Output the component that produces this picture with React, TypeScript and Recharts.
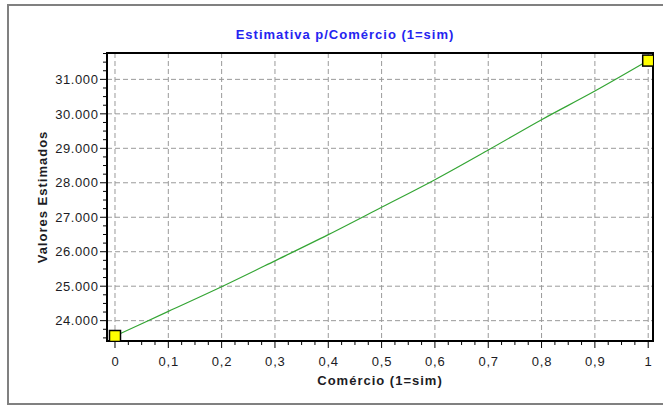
import React from 'react';
import { LineChart, Line, XAxis, YAxis, CartesianGrid, ReferenceArea } from 'recharts';

// values
const comercio = [0, 0.1, 0.2, 0.3, 0.4, 0.5, 0.6, 0.7, 0.8, 0.9, 1];
const valoresEstimados = [23555, 24270, 24985, 25735, 26495, 27290, 28090, 28950, 29830, 30660, 31545];

const xTicks = [0, 0.1, 0.2, 0.3, 0.4, 0.5, 0.6, 0.7, 0.8, 0.9, 1];
const xTickLabels = ['0', '0,1', '0,2', '0,3', '0,4', '0,5', '0,6', '0,7', '0,8', '0,9', '1'];
const yTicks = [24000, 25000, 26000, 27000, 28000, 29000, 30000, 31000];
const yTickLabels = ['24.000', '25.000', '26.000', '27.000', '28.000', '29.000', '30.000', '31.000'];

const X_DOMAIN: [number, number] = [-0.015, 1.009];
const Y_DOMAIN: [number, number] = [23410, 31765];

// minor tick marks between the labelled ones
const minorTicks = (from: number, to: number, step: number) => {
  const out: number[] = [];
  for (let v = from; v <= to + step / 1000; v += step) out.push(Number(v.toFixed(4)));
  return out;
};
const xMinor = minorTicks(0, 1, 0.025);
const yMinor = minorTicks(23500, 31750, 250);

const data = comercio.map((c, i) => ({ c, v: valoresEstimados[i] }));

const FONT = '"Liberation Sans", Arial, sans-serif';
const TEXT = '#1c1c24';

function XTick(props: any) {
  const { x, y, payload } = props;
  const i = xTicks.findIndex((t) => Math.abs(t - payload.value) < 1e-6);
  const major = i >= 0;
  return (
    <g>
      <line x1={x} x2={x} y1={y} y2={y + (major ? 7 : 4)} stroke="#000" />
      {major && (
        <text x={x + 0.4} y={y + 25} textAnchor="middle" fontSize={13} letterSpacing={0.8} fill={TEXT} fontFamily={FONT}>
          {xTickLabels[i]}
        </text>
      )}
    </g>
  );
}

function YTick(props: any) {
  const { x, y, payload } = props;
  const i = yTicks.findIndex((t) => Math.abs(t - payload.value) < 1e-6);
  const major = i >= 0;
  return (
    <g>
      <line x1={x - (major ? 7 : 4)} x2={x} y1={y} y2={y} stroke="#000" />
      {major && (
        <text x={x - 8.5} y={y} dy="0.36em" textAnchor="end" fontSize={13} letterSpacing={0.6} fill={TEXT} fontFamily={FONT}>
          {yTickLabels[i]}
        </text>
      )}
    </g>
  );
}

function EndMarker(p: any) {
  const ends = p.index === 0 || p.index === data.length - 1;
  if (!ends) return <g key={p.index} />;
  return (
    <rect key={p.index} x={p.cx - 5.5} y={p.cy - 5.5} width={11} height={11} fill="#ffff00" stroke="#000" strokeWidth={1.5} />
  );
}

export default function App() {
  return (
    <div style={{ position: 'absolute', left: 0, top: 0, width: 663, height: 406, background: '#fff', overflow: 'hidden' }}>
      <div
        style={{
          position: 'absolute', left: 7, top: 4, width: 720, height: 397,
          borderTop: '2px solid #808080', borderLeft: '2px solid #808080', borderBottom: '2px solid #808080',
        }}
      />
      <div style={{ position: 'absolute', left: 0, top: 0 }}>
        <LineChart width={663} height={406} data={data} margin={{ top: 53, right: 10, left: 0, bottom: 0 }}>
          <CartesianGrid
            stroke="#9a9a9a"
            strokeDasharray="5 3"
            verticalValues={xTicks}
            horizontalValues={yTicks}
          />
          <XAxis
            dataKey="c"
            type="number"
            domain={X_DOMAIN}
            ticks={xMinor}
            interval={0}
            height={65}
            tickSize={0}
            tickMargin={0}
            tickLine={false}
            tick={<XTick />}
            axisLine={{ stroke: '#000', strokeWidth: 2 }}
            allowDataOverflow
            label={{
              content: (lp: any) => (
                <text x={lp.viewBox.x + lp.viewBox.width / 2} y={385} textAnchor="middle" fontSize={13} fontWeight="bold" letterSpacing={1} fill={TEXT} fontFamily={FONT}>
                  Comércio (1=sim)
                </text>
              ),
            }}
          />
          <YAxis
            type="number"
            domain={Y_DOMAIN}
            ticks={yMinor}
            interval={0}
            width={107}
            tickSize={0}
            tickMargin={0}
            tickLine={false}
            tick={<YTick />}
            axisLine={{ stroke: '#000', strokeWidth: 2 }}
            allowDataOverflow
            label={{
              content: (lp: any) => {
                const cy = lp.viewBox.y + lp.viewBox.height / 2;
                return (
                  <text x={42} y={cy} dy="0.36em" transform={`rotate(-90, 42, ${cy})`} textAnchor="middle" fontSize={13} fontWeight="bold" letterSpacing={1} fill={TEXT} fontFamily={FONT}>
                    Valores Estimados
                  </text>
                );
              },
            }}
          />
          {/* plot frame */}
          <ReferenceArea
            x1={X_DOMAIN[0]}
            x2={X_DOMAIN[1]}
            y1={Y_DOMAIN[0]}
            y2={Y_DOMAIN[1]}
            fill="none"
            fillOpacity={0}
            stroke="#000"
            strokeWidth={2}
            strokeOpacity={1}
            ifOverflow="visible"
          />
          <Line
            type="monotone"
            dataKey="v"
            stroke="#34a534"
            strokeWidth={1.2}
            dot={EndMarker}
            activeDot={false}
            isAnimationActive={false}
          />
        </LineChart>
      </div>
      <div
        style={{
          position: 'absolute', left: 0, top: 27, width: 690, textAlign: 'center',
          font: `bold 13px ${FONT}`, lineHeight: '15px', letterSpacing: 1, color: '#2424f0',
        }}
      >
        Estimativa p/Comércio (1=sim)
      </div>
    </div>
  );
}
